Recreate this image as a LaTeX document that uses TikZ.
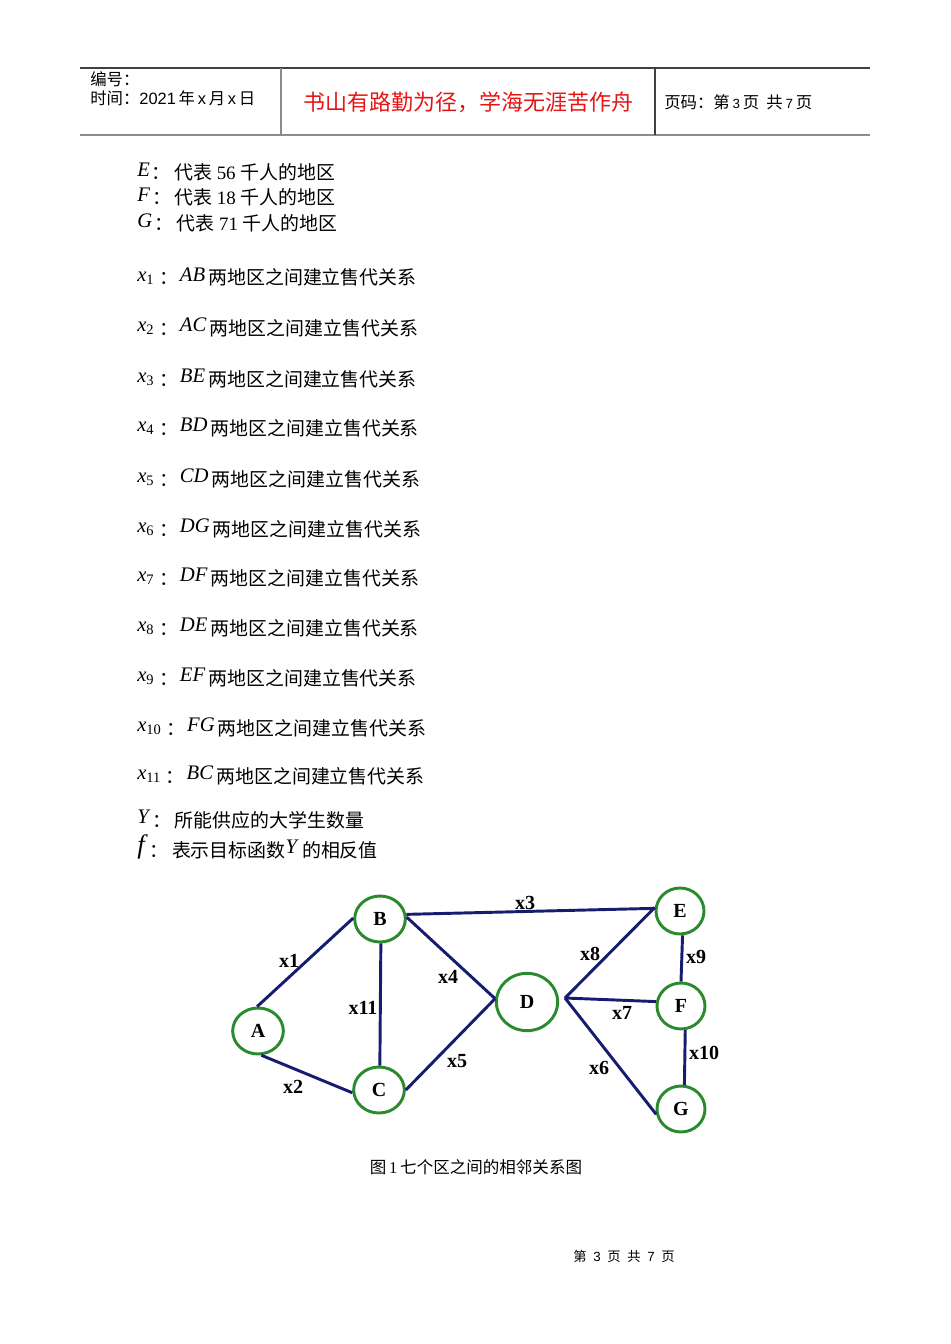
\documentclass[tikz,border=0pt]{standalone}
\usepackage{fontspec}
\setmainfont{Liberation Serif}
\newfontfamily\cjk{Noto Sans CJK SC}
\newfontfamily\hdsans{Liberation Sans}
\usetikzlibrary{shapes.geometric}
\definecolor{edgeblue}{RGB}{22,28,112}
\definecolor{nodegreen}{RGB}{42,138,46}
\definecolor{mottored}{RGB}{230,20,20}
\tikzset{
  bodytext/.style={anchor=base west,inner sep=0pt,font=\fontsize{14.2pt}{16pt}\selectfont},
  hdtext/.style={anchor=base west,inner sep=0pt,font=\fontsize{12.3pt}{14pt}\selectfont},
  region/.style={ellipse,draw=nodegreen,line width=2.2pt,inner sep=0pt,
     minimum width=38pt,minimum height=34.5pt,font=\bfseries\fontsize{15pt}{17pt}\selectfont},
  link/.style={draw=edgeblue,line width=2.2pt},
  elabel/.style={inner sep=0pt,font=\bfseries\fontsize{15pt}{17pt}\selectfont}
}
\newcommand{\mysym}[1]{\raisebox{2.5pt}{\fontsize{15.5pt}{17pt}\selectfont #1}}
\newcommand{\zcol}{\hspace{1.5pt}{\cjk ：}\hspace{2.5pt}}
\newcommand{\xcol}{\hspace{3.5pt}{\cjk ：}\hspace{1.5pt}}
\begin{document}
\begin{tikzpicture}[x=0.75pt,y=-0.75pt]
\useasboundingbox (0,0) rectangle (950,1344);
% header
\draw[line width=0.8pt,black!75] (80,68) -- (870,68);
\draw[line width=1.5pt,black!45] (80,135) -- (870,135);
\draw[line width=0.8pt,black!45] (281,68) -- (281,135);
\draw[line width=0.8pt,black!75] (655,68) -- (655,135);
\node[hdtext] (h1) at (90,86) {\cjk 编号：};
\node[hdtext] (h2) at (90,105) {\cjk 时间：\hdsans 2021\,\cjk 年\,\hdsans x\,\cjk 月\,\hdsans x\,\cjk 日};
\node[anchor=base,inner sep=0pt,text=mottored,font=\fontsize{16.5pt}{18pt}\selectfont] (motto) at (468,111) {\cjk 书山有路勤为径，学海无涯苦作舟};
\node[hdtext] (h3) at (664,109) {\cjk 页码：第\,{\hdsans\fontsize{10pt}{11pt}\selectfont 3}\,页\ \ 共\,{\hdsans\fontsize{10pt}{11pt}\selectfont 7}\,页};
% body lines
\node[bodytext] (tE) at (137,180) {\mysym{\textit{E}}\zcol{\cjk 代表} 56 {\cjk 千人的地区}};
\node[bodytext] (tF) at (137,205) {\mysym{\textit{F}}\zcol{\cjk 代表} 18 {\cjk 千人的地区}};
\node[bodytext] (tG) at (137,231) {\mysym{\textit{G}}\zcol{\cjk 代表} 71 {\cjk 千人的地区}};
\node[bodytext] (t1) at (137,285) {\mysym{\textit{x}\textsubscript{1}}\xcol\mysym{\textit{AB}}\,{\cjk 两地区之间建立售代关系}};
\node[bodytext] (t2) at (137,335) {\mysym{\textit{x}\textsubscript{2}}\xcol\mysym{\textit{AC}}\,{\cjk 两地区之间建立售代关系}};
\node[bodytext] (t3) at (137,386) {\mysym{\textit{x}\textsubscript{3}}\xcol\mysym{\textit{BE}}\,{\cjk 两地区之间建立售代关系}};
\node[bodytext] (t4) at (137,435) {\mysym{\textit{x}\textsubscript{4}}\xcol\mysym{\textit{BD}}\,{\cjk 两地区之间建立售代关系}};
\node[bodytext] (t5) at (137,486) {\mysym{\textit{x}\textsubscript{5}}\xcol\mysym{\textit{CD}}\,{\cjk 两地区之间建立售代关系}};
\node[bodytext] (t6) at (137,536) {\mysym{\textit{x}\textsubscript{6}}\xcol\mysym{\textit{DG}}\,{\cjk 两地区之间建立售代关系}};
\node[bodytext] (t7) at (137,585) {\mysym{\textit{x}\textsubscript{7}}\xcol\mysym{\textit{DF}}\,{\cjk 两地区之间建立售代关系}};
\node[bodytext] (t8) at (137,635) {\mysym{\textit{x}\textsubscript{8}}\xcol\mysym{\textit{DE}}\,{\cjk 两地区之间建立售代关系}};
\node[bodytext] (t9) at (137,685) {\mysym{\textit{x}\textsubscript{9}}\xcol\mysym{\textit{EF}}\,{\cjk 两地区之间建立售代关系}};
\node[bodytext] (t10) at (137,735) {\mysym{\textit{x}\textsubscript{10}}\xcol\mysym{\textit{FG}}\,{\cjk 两地区之间建立售代关系}};
\node[bodytext] (t11) at (137,783) {\mysym{\textit{x}\textsubscript{11}}\xcol\mysym{\textit{BC}}\,{\cjk 两地区之间建立售代关系}};
\node[bodytext] (tY) at (137,827) {\mysym{\textit{Y}}\zcol{\cjk 所能供应的大学生数量}};
\node[bodytext] (tf) at (137,857) {\mysym{{\fontsize{20pt}{21pt}\selectfont\textit{f}}}\zcol{\cjk 表示目标函数}\mysym{\textit{Y}}\,{\cjk 的相反值}};
% graph nodes
\node[region] (A) at (258,1031) {A};
\node[region] (B) at (380,919) {B};
\node[region] (C) at (379,1090) {C};
\node[region,minimum width=46pt,minimum height=43pt] (D) at (527,1002) {D};
\node[region,minimum width=36pt] (E) at (680,911) {E};
\node[region,minimum width=36pt] (F) at (681,1006) {F};
\node[region,minimum width=36pt] (G) at (681,1109) {G};
\coordinate (Dhub) at (565,998);
% edges
\draw[link] (A.92) -- (B.178);
\draw[link] (A.-82) -- (C.186);
\draw[link] (B.272) -- (C.88);
\draw[link] (B.4) -- (D.174);
\draw[link] (C.0) -- (D.174);
\draw[link] (B.10) -- (E.174);
\draw[link] (Dhub) -- (E.172);
\draw[link] (Dhub) -- (F.170);
\draw[link] (Dhub) -- (G.192);
\draw[link] (E.-84) -- (F.90);
\draw[link] (F.-80) -- (G.82);
% edge labels
\node[elabel] (l1) at (289,961) {x1};
\node[elabel] (l2) at (293,1087) {x2};
\node[elabel] (l3) at (525,903) {x3};
\node[elabel] (l4) at (448,977) {x4};
\node[elabel] (l5) at (457,1061) {x5};
\node[elabel] (l6) at (599,1068) {x6};
\node[elabel] (l7) at (622,1013) {x7};
\node[elabel] (l8) at (590,954) {x8};
\node[elabel] (l9) at (696,957) {x9};
\node[elabel] (l10) at (704,1053) {x10};
\node[elabel] (l11) at (363,1008) {x11};
% caption and footer
\node[anchor=base,inner sep=0pt,font=\fontsize{12.4pt}{14pt}\selectfont] (cap) at (476,1173) {{\cjk 图}\,1\,{\cjk 七个区之间的相邻关系图}};
\node[anchor=base,inner sep=0pt,font=\fontsize{10pt}{12pt}\selectfont] (foot) at (624,1261) {{\cjk 第}\ \ {\hdsans 3}\ \ {\cjk 页}\ \ {\cjk 共}\ \ {\hdsans 7}\ \ {\cjk 页}};
\end{tikzpicture}
\end{document}
